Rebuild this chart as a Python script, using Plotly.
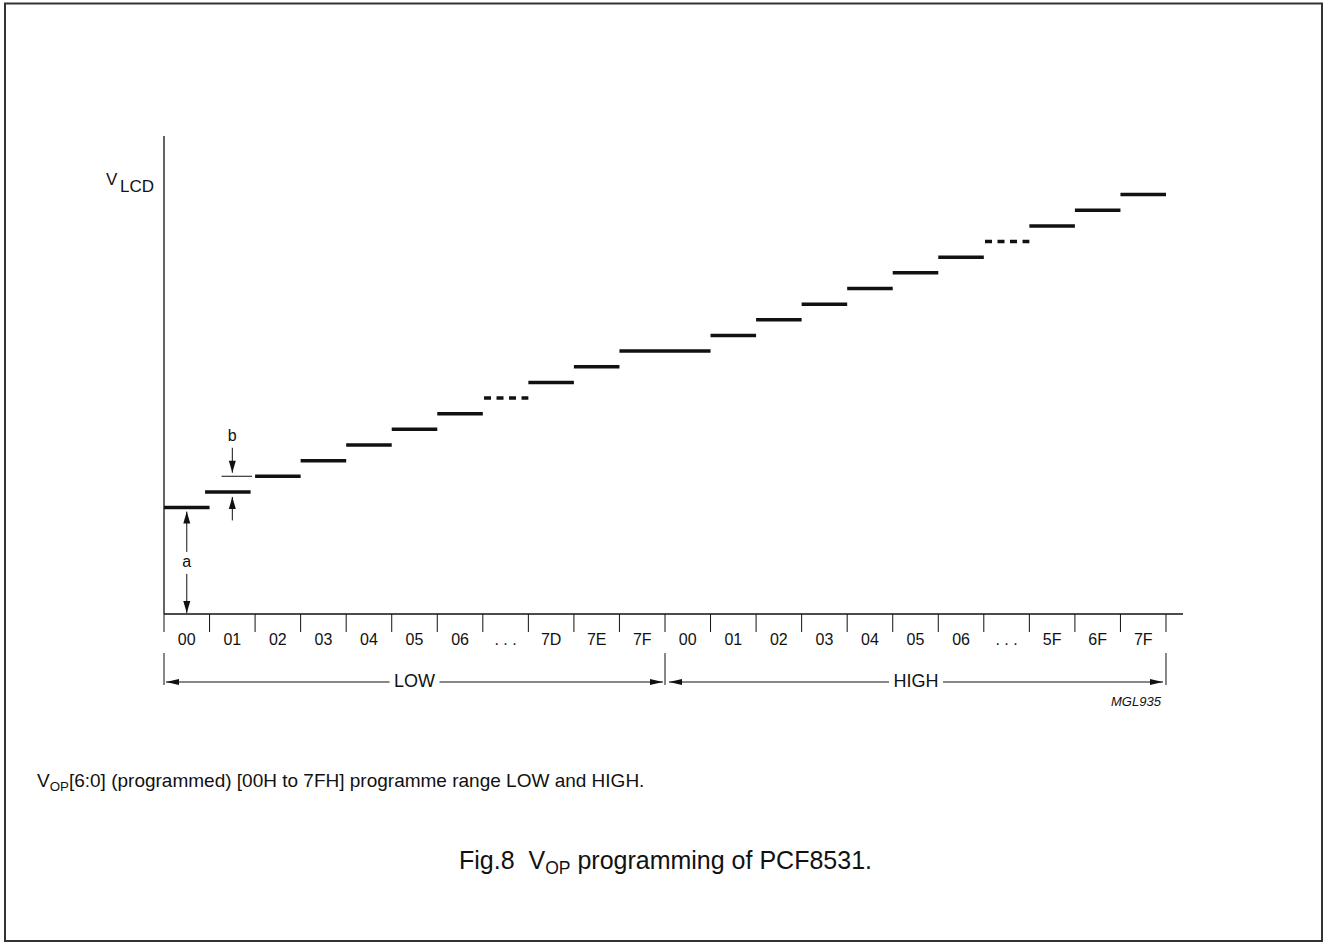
import plotly.graph_objects as go

# ---------------- data ----------------
low_codes = ["00", "01", "02", "03", "04", "05", "06", "...", "7D", "7E", "7F"]
high_codes = ["00", "01", "02", "03", "04", "05", "06", "...", "5F", "6F", "7F"]
low_levels = [6.8, 7.8, 8.8, 9.8, 10.8, 11.8, 12.8, 13.8, 14.8, 15.8, 16.8]
high_levels = [16.8, 17.8, 18.8, 19.8, 20.8, 21.8, 22.8, 23.8, 24.8, 25.8, 26.8]
range_labels = ["LOW", "HIGH"]

# ---------------- geometry (pixel <-> data scale) ----------------
W, H = 1327, 944
X0, SLOT = 164.0, 45.545   # pixel of x=0, pixels per code slot
Y0, STEP = 614.0, 15.65    # pixel of y=0, pixels per voltage step


def dx(p):
    return p / SLOT


def dy(p):
    return p / STEP


codes = low_codes + high_codes
levels = low_levels + high_levels
n = len(codes)
n_low = len(low_codes)
x_end = dx(1183 - X0)
y_top = dy(Y0 - 136)

FONT = "Liberation Sans, Arial, Helvetica, sans-serif"
INK = "#111111"

fig = go.Figure()

# ---------------- step levels ----------------
sx, sy, qx, qy = [], [], [], []
for i, (c, v) in enumerate(zip(codes, levels)):
    if c == "...":
        qx += [i + dx(1.2), i + 1, None]
        qy += [v, v, None]
    else:
        shift = dx(4.5) if i == 1 else 0.0
        sx += [i - shift, i + 1 - shift, None]
        sy += [v, v, None]

fig.add_trace(go.Scatter(x=sx, y=sy, mode="lines", line=dict(color=INK, width=3.5),
                         hoverinfo="skip", showlegend=False))
fig.add_trace(go.Scatter(x=qx, y=qy, mode="lines",
                         line=dict(color=INK, width=3.5, dash="7px,5.5px"),
                         hoverinfo="skip", showlegend=False))

# ---------------- axes ----------------
fig.add_shape(type="line", x0=0, x1=x_end, y0=0, y1=0, line=dict(color=INK, width=1.3))
fig.add_shape(type="line", x0=0, x1=0, y0=0, y1=y_top, line=dict(color=INK, width=1.3))
for k in range(n + 1):
    fig.add_shape(type="line", x0=k, x1=k, y0=0, y1=-dy(18), line=dict(color=INK, width=1))


def text_trace(xs, ys, texts, size=16):
    fig.add_trace(go.Scatter(
        x=xs, y=ys, mode="text", text=texts, textposition="middle center",
        textfont=dict(family=FONT, size=size, color=INK),
        hoverinfo="skip", showlegend=False, cliponaxis=False))


text_trace([i + 0.5 for i in range(n)], [-dy(27)] * n,
           [". . ." if c == "..." else c for c in codes], 16)


# ---------------- helpers ----------------
def head(xt, yt, ux, uy, L=12.0, Wd=7.0):
    bx = xt - dx(ux * L)
    by = yt - dy(uy * L)
    px_, py_ = -uy, ux
    p1 = (bx + dx(px_ * Wd / 2), by + dy(py_ * Wd / 2))
    p2 = (bx - dx(px_ * Wd / 2), by - dy(py_ * Wd / 2))
    fig.add_shape(type="path",
                  path=f"M {xt},{yt} L {p1[0]},{p1[1]} L {p2[0]},{p2[1]} Z",
                  fillcolor=INK, line=dict(width=0))


def seg(x0, y0, x1, y1, w=1.0):
    fig.add_shape(type="line", x0=x0, y0=y0, x1=x1, y1=y1, line=dict(color=INK, width=w))


# ---------------- LOW / HIGH brackets ----------------
y_bar0, y_bar1 = -dy(39), -dy(71)
for xb in [0, n_low, n]:
    seg(xb, y_bar0, xb, y_bar1)

y_br = -dy(68)
spans = [(0 + dx(2), n_low - dx(2)), (n_low + dx(4), n - dx(3))]
half_gaps = [dx(25), dx(27)]
mids = []
for (a0, a1), hg in zip(spans, half_gaps):
    m = (a0 + a1) / 2
    mids.append(m)
    seg(a0, y_br, m - hg, y_br)
    seg(m + hg, y_br, a1, y_br)
    head(a0, y_br, -1, 0, L=13, Wd=6)
    head(a1, y_br, 1, 0, L=13, Wd=6)
text_trace(mids, [y_br] * len(mids), range_labels, 18)

# ---------------- dimension "a" ----------------
xa = 0.5
a_y = low_levels[0] * 0.48
tip_up = low_levels[0] - dy(4)
tip_dn = dy(1)
seg(xa, a_y + dy(11), xa, tip_up)
head(xa, tip_up, 0, 1)
seg(xa, a_y - dy(11), xa, tip_dn)
head(xa, tip_dn, 0, -1)

# ---------------- dimension "b" ----------------
xb_ = 1.5
seg(1 + dx(12), low_levels[2], 2 - dx(3), low_levels[2], w=1)
b_dn_tip = low_levels[2] + dy(3.5)
seg(xb_, b_dn_tip + dy(25), xb_, b_dn_tip)
head(xb_, b_dn_tip, 0, -1)
b_up_tip = low_levels[1] - dy(5)
seg(xb_, b_up_tip - dy(23.5), xb_, b_up_tip)
head(xb_, b_up_tip, 0, 1)

text_trace([xa, xb_], [a_y, low_levels[2] + dy(39)], ["a", "b"], 16)


# ---------------- free texts (paper coords) ----------------
def ptext(xp, yp, text, size, xanchor="center", italic=False):
    fig.add_annotation(x=xp / W, y=1 - yp / H, xref="paper", yref="paper", text=text,
                       showarrow=False, xanchor=xanchor, yanchor="middle",
                       font=dict(family=FONT, size=size, color=INK,
                                 style="italic" if italic else "normal"))


ptext(112, 179, "V", 17)
ptext(137, 186, "LCD", 17)
ptext(1164, 701, "MGL935", 13, xanchor="right", italic=True)
ptext(35, 782, "V<sub>OP</sub>[6:0] (programmed) [00H to 7FH] programme range LOW and HIGH.",
      19, xanchor="left")
ptext(665, 862, "Fig.8\u00a0\u00a0V<sub>OP</sub> programming of PCF8531.", 25)

# frame
fig.add_shape(type="rect", xref="paper", yref="paper",
              x0=5 / W, x1=1322 / W, y0=1 - 941 / H, y1=1 - 3.5 / H,
              line=dict(color="#333333", width=2))

fig.update_layout(
    width=W, height=H, margin=dict(l=0, r=0, t=0, b=0),
    paper_bgcolor="white", plot_bgcolor="white", showlegend=False,
    xaxis=dict(range=[-X0 / SLOT, (W - X0) / SLOT], visible=False, domain=[0, 1]),
    yaxis=dict(range=[-(H - Y0) / STEP, Y0 / STEP], visible=False, domain=[0, 1]),
)

fig.write_html("out.html", config={"displayModeBar": False},
               post_script="document.body.style.margin='0';document.body.style.overflow='hidden';")
